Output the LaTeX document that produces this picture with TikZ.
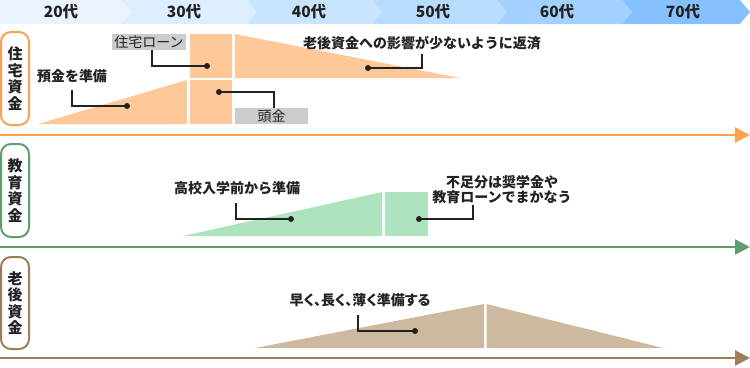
\documentclass[tikz,border=0pt]{standalone}
\usepackage{fontspec}
\setmainfont{Noto Sans CJK JP}
\newfontfamily\paltfont{Noto Sans CJK JP}[RawFeature=+palt]
\usetikzlibrary{arrows.meta}
\definecolor{hd1}{HTML}{EAF4FE}
\definecolor{hd2}{HTML}{DCEEFF}
\definecolor{hd3}{HTML}{C9E4FF}
\definecolor{hd4}{HTML}{B8DCFF}
\definecolor{hd5}{HTML}{A2D0FF}
\definecolor{hd6}{HTML}{86C1FF}
\definecolor{txt}{HTML}{222222}
\definecolor{orline}{HTML}{F9A24F}
\definecolor{orfill}{HTML}{FFC899}
\definecolor{grline}{HTML}{5E9E6E}
\definecolor{grfill}{HTML}{ADE3BF}
\definecolor{brline}{HTML}{9C7E58}
\definecolor{brfill}{HTML}{CDB99F}
\definecolor{graybox}{HTML}{CCCCCC}
\tikzset{
  hdtext/.style={font=\bfseries\fontsize{15.5}{17}\selectfont, text=txt, inner sep=0pt},
  vbox/.style={draw, line width=2pt, rounded corners=10pt, minimum width=28pt, align=center,
    inner sep=0pt, font=\bfseries\fontsize{15}{16.5}\selectfont, text=txt},
  lbl/.style={font=\bfseries\fontsize{14}{15}\selectfont, text=txt, inner sep=0pt, align=center},
  graylbl/.style={fill=graybox, font=\fontsize{14}{15}\selectfont, text=txt, inner sep=0pt},
  leader/.style={draw=txt, line width=1.8pt},
  dotn/.style={circle, fill=txt, inner sep=0pt, minimum size=6pt},
  axisline/.style={line width=2.5pt, -{Triangle[length=15pt,width=15pt]}},
}
\begin{document}
\begin{tikzpicture}[x=1pt,y=-1pt]
\useasboundingbox (0,0) rectangle (750,367);
% header chevrons
\fill[hd1] (0,0) -- (122,0) -- (132,12) -- (122,24) -- (0,24) -- cycle;
\fill[hd2] (122,0) -- (247,0) -- (257,12) -- (247,24) -- (122,24) -- (132,12) -- cycle;
\fill[hd3] (247,0) -- (372,0) -- (382,12) -- (372,24) -- (247,24) -- (257,12) -- cycle;
\fill[hd4] (372,0) -- (497,0) -- (507,12) -- (497,24) -- (372,24) -- (382,12) -- cycle;
\fill[hd5] (497,0) -- (622,0) -- (632,12) -- (622,24) -- (497,24) -- (507,12) -- cycle;
\fill[hd6] (622,0) -- (740,0) -- (750,12) -- (740,24) -- (622,24) -- (632,12) -- cycle;
\node[hdtext] (a20) at (61,12) {20代};
\node[hdtext] (a30) at (184,12) {30代};
\node[hdtext] (a40) at (309,12) {40代};
\node[hdtext] (a50) at (433,12) {50代};
\node[hdtext] (a60) at (557,12) {60代};
\node[hdtext] (a70) at (683,12) {70代};

% row 1: housing
\node[vbox, draw=orline, minimum height=93pt] (h1) at (15,78.5) {住\\宅\\資\\金};
\fill[orfill] (38,124) -- (187,80) -- (187,124) -- cycle;
\fill[orfill] (189.5,80) rectangle (232,124);
\fill[orfill] (189.5,34) rectangle (232,78);
\fill[orfill] (235,34) -- (460,78) -- (235,78) -- cycle;
\node[graylbl, minimum width=74pt, minimum height=16pt] (loan) at (149,42) {住宅ローン};
\node[graylbl, minimum width=73pt, minimum height=16pt] (atama) at (271.5,116) {頭金};
\node[lbl] (yokin) at (72,76) {預金を準備};
\node[lbl] (rougo1) at (422,43) {老後資金への影響が少ないように返済};
\node[dotn] (d1) at (127,106) {};
\node[dotn] (d2) at (207,66) {};
\node[dotn] (d3) at (219,92) {};
\node[dotn] (d4) at (368,68) {};
\coordinate (s1) at (72,90);
\coordinate (s4) at (422,54);
\draw[leader] (s1) |- (d1.center);
\draw[leader] ([xshift=3pt]loan.south) |- (d2.center);
\draw[leader] (d3.center) -| ([xshift=2.5pt]atama.north);
\draw[leader] (s4) |- (d4.center);
\coordinate (ax1s) at (0,135);
\coordinate (ax1e) at (750,135);
\draw[axisline, orline] (ax1s) -- (ax1e);

% row 2: education
\node[vbox, draw=grline, minimum height=93pt] (h2) at (15,190.5) {教\\育\\資\\金};
\fill[grfill] (183,236) -- (382,192) -- (382,236) -- cycle;
\fill[grfill] (384.5,192) rectangle (428,236);
\node[lbl] (koko) at (237,188) {高校入学前から準備};
\node[lbl] (fusoku) at (502,189.5) {不足分は奨学金や\\教育ローンでまかなう};
\node[dotn] (d5) at (291,219) {};
\node[dotn] (d6) at (419,219) {};
\coordinate (s5) at (236,203);
\coordinate (s6) at (473,205);
\draw[leader] (s5) |- (d5.center);
\draw[leader] (s6) |- (d6.center);
\coordinate (ax2s) at (0,247);
\coordinate (ax2e) at (750,247);
\draw[axisline, grline] (ax2s) -- (ax2e);

% row 3: retirement
\node[vbox, draw=brline, minimum height=92pt] (h3) at (15,303) {老\\後\\資\\金};
\fill[brfill] (255,348) -- (484,304) -- (484,348) -- cycle;
\fill[brfill] (486.5,304) -- (663,348) -- (486.5,348) -- cycle;
\node[lbl, font=\paltfont\bfseries\fontsize{14}{15}\selectfont] (hayaku) at (360,300) {早く、長く、薄く準備する};
\node[dotn] (d7) at (415,331) {};
\coordinate (s7) at (358,315);
\draw[leader] (s7) |- (d7.center);
\coordinate (ax3s) at (0,358);
\coordinate (ax3e) at (750,358);
\draw[axisline, brline] (ax3s) -- (ax3e);
\end{tikzpicture}
\end{document}
